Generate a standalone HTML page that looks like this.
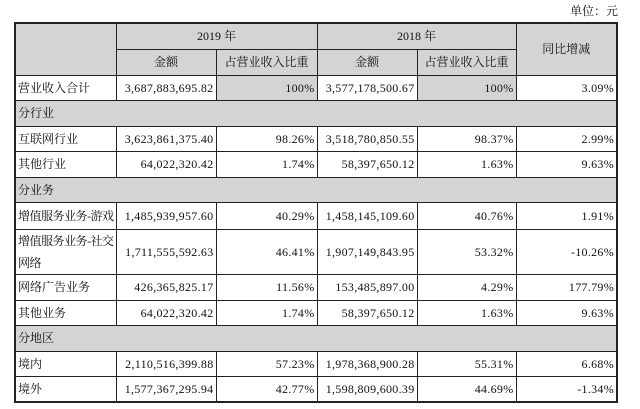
<!DOCTYPE html>
<html><head><meta charset="utf-8"><style>
html,body{margin:0;padding:0;background:#fff;width:640px;height:409px;overflow:hidden}
body{position:relative;font-family:"Liberation Serif","Noto Serif CJK SC",serif;font-size:12px;color:#111}
.unit{position:absolute;right:22px;top:2px;font-size:12px}
table{position:absolute;left:14px;top:22px;width:602px;border-collapse:collapse;table-layout:fixed;border:2px solid #222}
td{border:1px solid #222;padding:0 2px;white-space:nowrap;overflow:hidden;line-height:14px}
.g{background:#d4d4d4}
.c{text-align:center}
.r{text-align:right;letter-spacing:0.3px}
.l{text-align:left}
</style></head><body>
<div class="unit">单位：元</div>
<table>
<colgroup><col style="width:101px"><col style="width:100px"><col style="width:101px"><col style="width:100px"><col style="width:99px"><col style="width:101px"></colgroup>
<tr style="height:26px"><td class="g" rowspan="2"></td><td class="g c" colspan="2">2019 年</td><td class="g c" colspan="2">2018 年</td><td class="g c" rowspan="2">同比增减</td></tr>
<tr style="height:26px"><td class="g c">金额</td><td class="g c">占营业收入比重</td><td class="g c">金额</td><td class="g c">占营业收入比重</td></tr>
<tr style="height:25px"><td class="l">营业收入合计</td><td class="r">3,687,883,695.82</td><td class="g r">100%</td><td class="r">3,577,178,500.67</td><td class="g r">100%</td><td class="r">3.09%</td></tr>
<tr style="height:26px"><td class="g l" colspan="6">分行业</td></tr>
<tr style="height:25px"><td class="l">互联网行业</td><td class="r">3,623,861,375.40</td><td class="r">98.26%</td><td class="r">3,518,780,850.55</td><td class="r">98.37%</td><td class="r">2.99%</td></tr>
<tr style="height:26px"><td class="l">其他行业</td><td class="r">64,022,320.42</td><td class="r">1.74%</td><td class="r">58,397,650.12</td><td class="r">1.63%</td><td class="r">9.63%</td></tr>
<tr style="height:25px"><td class="g l" colspan="6">分业务</td></tr>
<tr style="height:27px"><td class="l" style="letter-spacing:-0.5px">增值服务业务-游戏</td><td class="r">1,485,939,957.60</td><td class="r">40.29%</td><td class="r">1,458,145,109.60</td><td class="r">40.76%</td><td class="r">1.91%</td></tr>
<tr style="height:45px"><td class="l" style="white-space:normal;line-height:22px;letter-spacing:-0.5px">增值服务业务-社交网络</td><td class="r">1,711,555,592.63</td><td class="r">46.41%</td><td class="r">1,907,149,843.95</td><td class="r">53.32%</td><td class="r">-10.26%</td></tr>
<tr style="height:26px"><td class="l">网络广告业务</td><td class="r">426,365,825.17</td><td class="r">11.56%</td><td class="r">153,485,897.00</td><td class="r">4.29%</td><td class="r">177.79%</td></tr>
<tr style="height:25px"><td class="l">其他业务</td><td class="r">64,022,320.42</td><td class="r">1.74%</td><td class="r">58,397,650.12</td><td class="r">1.63%</td><td class="r">9.63%</td></tr>
<tr style="height:26px"><td class="g l" colspan="6">分地区</td></tr>
<tr style="height:25px"><td class="l">境内</td><td class="r">2,110,516,399.88</td><td class="r">57.23%</td><td class="r">1,978,368,900.28</td><td class="r">55.31%</td><td class="r">6.68%</td></tr>
<tr style="height:26px"><td class="l">境外</td><td class="r">1,577,367,295.94</td><td class="r">42.77%</td><td class="r">1,598,809,600.39</td><td class="r">44.69%</td><td class="r">-1.34%</td></tr>
</table>
</body></html>
